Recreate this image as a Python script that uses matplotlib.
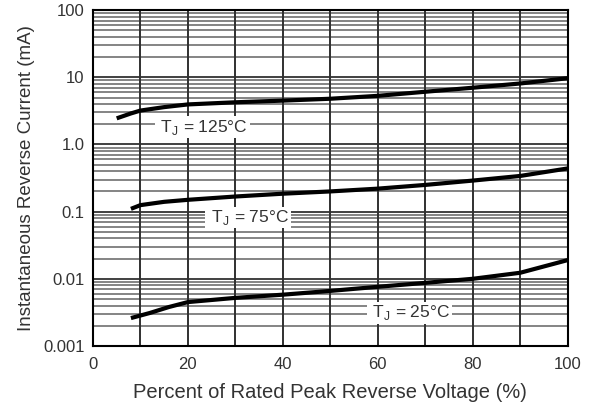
import matplotlib.pyplot as plt
import numpy as np

plt.rcParams['font.family'] = ['Liberation Sans', 'DejaVu Sans']

# percent of rated peak reverse voltage
v125 = [5, 8, 10, 15, 20, 30, 40, 50, 60, 70, 80, 90, 100]
i125 = [2.45, 2.9, 3.2, 3.6, 3.95, 4.25, 4.5, 4.8, 5.3, 6.1, 7.0, 8.1, 9.7]

v75 = [8, 10, 15, 20, 30, 40, 50, 60, 70, 80, 90, 100]
i75 = [0.11, 0.125, 0.14, 0.15, 0.168, 0.185, 0.2, 0.22, 0.25, 0.29, 0.34, 0.44]

v25 = [8, 12, 16, 20, 30, 40, 50, 60, 70, 80, 90, 100]
i25 = [0.0026, 0.0031, 0.0038, 0.0045, 0.0052, 0.0058, 0.0066, 0.0076, 0.0087, 0.010, 0.0123, 0.019]

labels = [' T$_\\mathregular{J}$ = 125°C ', ' T$_\\mathregular{J}$ = 75°C ', ' T$_\\mathregular{J}$ = 25°C ']
label_pos = [(23, 1.8), (32.7, 0.082), (66.7, 0.0031)]

yticks = [0.001, 0.01, 0.1, 1.0, 10, 100]
yticklabels = ['0.001', '0.01', '0.1', '1.0', '10', '100']

fig = plt.figure(figsize=(5.92, 4.07), dpi=100)
ax = fig.add_axes([0.157, 0.150, 0.802, 0.825])

ax.set_yscale('log')
ax.set_xlim(0, 100)
ax.set_ylim(0.001, 100)

# grid
for d in [0.001, 0.01, 0.1, 1, 10]:
    for k in range(2, 10):
        ax.axhline(d * k, color='#707070', lw=1.2, zorder=1)
for d in yticks:
    ax.axhline(d, color='#202020', lw=1.2, zorder=1)
for x in range(10, 100, 10):
    ax.axvline(x, color='#303030', lw=1.4, zorder=1)

for v, i in [(v125, i125), (v75, i75), (v25, i25)]:
    ax.plot(v, i, color='black', lw=3, solid_capstyle='butt', zorder=3)

for txt, (x, y) in zip(labels, label_pos):
    ax.text(x, y, txt, ha='center', va='center', fontsize=12.5, color='#333333',
            bbox=dict(facecolor='white', edgecolor='none', pad=1.0), zorder=4)

ax.set_xticks([0, 20, 40, 60, 80, 100])
ax.set_yticks(yticks)
ax.set_yticklabels(yticklabels)
ax.yaxis.set_minor_locator(plt.NullLocator())
ax.tick_params(length=0, labelsize=12, colors='#333333', pad=6)
ax.tick_params(axis='x', pad=8)
for s in ax.spines.values():
    s.set_linewidth(1.5)

ax.set_xlabel('Percent of Rated Peak Reverse Voltage (%)', fontsize=14.5, color='#333333', labelpad=8)
ax.set_ylabel('Instantaneous Reverse Current (mA)', fontsize=13.5, color='#333333', labelpad=6)

fig.savefig('out.png', dpi=100)
